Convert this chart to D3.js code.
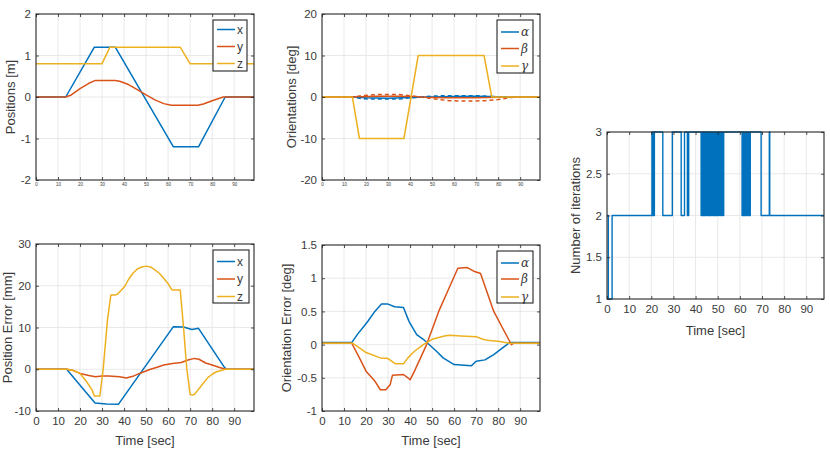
<!DOCTYPE html>
<html><head><meta charset="utf-8">
<script src="https://cdn.jsdelivr.net/npm/d3@7"></script>
<style>body{margin:0;background:#fff}svg{display:block}text{font-family:"Liberation Sans",Arial,sans-serif}</style>
</head><body>
<script>
// ---------- DATA ----------
const xTicks = [0,10,20,30,40,50,60,70,80,90];
const seriesColors = ["#0072BD","#D95319","#EDB120"];

// Panel 1: Positions [m]
const posTicks = [-2,-1,0,1,2];
const posX = [[0,0],[13.5,0],[26.5,1.2],[36,1.2],[62.4,-1.2],[73.8,-1.2],[85.9,0],[99,0]];
const posY = [[0,0],[13.5,0],[16,0.05],[20,0.2],[24,0.33],[27,0.4],[36,0.4],[38,0.38],[42,0.3],[46,0.18],[50,0.05],[54,-0.07],[58,-0.16],[61.5,-0.2],[73.5,-0.2],[76,-0.17],[80,-0.09],[85,0],[99,0]];
const posZ = [[0,0.8],[29.9,0.8],[33.6,1.2],[65.5,1.2],[70,0.8],[99,0.8]];

// Panel 2: Orientations [deg]
const oriTicks = [-20,-10,0,10,20];
const oriA = [[0,0],[14,0],[20,-0.2],[30,-0.3],[40,-0.1],[50,0],[60,0.15],[70,0.2],[80,0.05],[85,0],[99,0]];
const oriB = [[0,0],[14,0],[25,0.2],[35,0.2],[45,0],[55,-0.2],[70,-0.2],[85,0],[99,0]];
const oriG = [[0,0],[13.8,0],[17,-10],[37.2,-10],[43.7,10],[73.6,10],[77.1,0],[99,0]];
const oriADes = [[0,0],[14,0],[18,-0.4],[22,-0.5],[35,-0.5],[40,-0.2],[45,0],[50,0.2],[55,0.3],[72,0.3],[78,0.1],[85,0],[99,0]];
const oriBDes = [[0,0],[14,0],[18,0.3],[25,0.6],[35,0.6],[40,0.3],[45,0],[50,-0.4],[58,-0.9],[66,-1],[74,-0.9],[80,-0.6],[86,-0.1],[90,0],[99,0]];

// Panel 3: Position Error [mm]
const perTicks = [-10,0,10,20,30];
const perX = [[0,0],[13.9,0],[26.8,-8.1],[32,-8.3],[37.4,-8.4],[62.4,10.2],[67,10.1],[70.8,9.5],[73.8,9.8],[85.5,0.5],[86.5,0],[99,0]];
const perY = [[0,0],[14,0],[17,-0.3],[20,-1],[24,-1.5],[27,-1.8],[30,-1.6],[33,-1.6],[38,-1.8],[41,-2.1],[44,-1.7],[47,-1],[52,0],[55,0.5],[58,1],[62,1.4],[66,1.6],[69,2.2],[72,2.6],[74,2.4],[77,1.5],[80,1],[83,0.5],[86,0],[99,0]];
const perZ = [[0,0],[14,0],[17,-0.3],[20,-1],[23,-3],[25.5,-5],[26.5,-6.4],[29,-6.4],[30.5,0],[32.5,12],[34,17.8],[36,17.8],[37,18],[38.5,18.8],[40.5,20],[42,21.5],[44,23],[46,24],[48,24.5],[50,24.7],[52,24.5],[54,23.8],[56,23],[58,21.8],[60,20.5],[61.7,19],[65.5,19],[67,10],[68.5,0],[70,-6],[71,-6.2],[72,-6],[73.5,-5],[75,-4],[78,-2],[80,-1.2],[82,-0.6],[86,0],[99,0]];

// Panel 4: Orientation Error [deg]
const oerTicks = [-1,-0.5,0,0.5,1,1.5];
const oerA = [[0,0.03],[13.5,0.03],[16,0.15],[19.6,0.3],[21,0.36],[24,0.5],[27,0.61],[30,0.61],[33,0.57],[37,0.56],[39.5,0.35],[43,0.15],[46,0.08],[48,0.02],[52,-0.1],[55,-0.2],[60,-0.3],[67.8,-0.32],[70,-0.25],[74,-0.23],[78,-0.15],[82,-0.05],[84,0],[85,0.03],[99,0.03]];
const oerB = [[0,0.02],[13.5,0.02],[17,-0.2],[20,-0.4],[24,-0.55],[26.5,-0.68],[29,-0.68],[31,-0.6],[32,-0.46],[37,-0.45],[39,-0.5],[40,-0.53],[42,-0.4],[47.5,0],[53,0.5],[57,0.8],[61.7,1.15],[66,1.16],[69.3,1.1],[72,1.07],[78,0.5],[86,0],[87,0.02],[99,0.02]];
const oerG = [[0,0.02],[14,0.02],[17,-0.05],[20,-0.12],[26.5,-0.2],[30,-0.21],[33.4,-0.29],[37,-0.29],[39,-0.2],[42,-0.1],[46,0],[50,0.08],[55.6,0.13],[58,0.14],[63,0.13],[70,0.12],[73,0.08],[76,0.06],[80,0.05],[85,0.02],[99,0.02]];

// Panel 5: Number of iterations (step data: time of change, value after change)
const itTicksY = [1,1.5,2,2.5,3];
const iterTime  = [0,0.6,2.3,20.3,20.6,20.9,21.2,21.4,25.2,29.5,33.5,35.0,36.3,36.9,
  42.5,42.9,43.3,43.8,44.2,44.6,45.1,45.5,45.9,46.4,46.8,47.2,47.7,48.1,48.5,49.0,49.4,49.8,50.3,50.7,51.2,51.7,52.2,52.7,
  61.0,61.4,61.8,62.3,62.7,63.1,63.6,64.0,64.4,64.7,69.6,73.3,73.5,98];
const iterValue = [2,1,2,3,2,3,2,3,2,3,2,3,2,3,
  2,3,2,3,2,3,2,3,2,3,2,3,2,3,2,3,2,3,2,3,2,3,2,3,
  2,3,2,3,2,3,2,3,2,3,2,3,2,2];

// ---------- DRAW ----------
const svg = d3.select("body").append("svg").attr("width",830).attr("height",450);
const fmt = d => String(d);
const TICK_FS = 11.5, LABEL_FS = 13;

function panel(o){
  const x = d3.scaleLinear().domain(o.xdom).range([o.l,o.r]);
  const y = d3.scaleLinear().domain(o.ydom).range([o.b,o.t]);
  const g = svg.append("g");
  // grid
  g.selectAll(".gx").data(xTicks.filter(t=>t>o.xdom[0]&&t<o.xdom[1])).join("line")
    .attr("x1",d=>x(d)).attr("x2",d=>x(d)).attr("y1",o.t).attr("y2",o.b)
    .attr("stroke","#e3e3e3").attr("stroke-width",0.8);
  g.selectAll(".gy").data(o.yticks.filter(t=>t>o.ydom[0]&&t<o.ydom[1])).join("line")
    .attr("x1",o.l).attr("x2",o.r).attr("y1",d=>y(d)).attr("y2",d=>y(d))
    .attr("stroke","#e3e3e3").attr("stroke-width",0.8);
  // series
  const line = d3.line().x(d=>x(d[0])).y(d=>y(d[1]));
  const clip = "clip"+Math.round(o.l)+"_"+Math.round(o.t);
  svg.append("clipPath").attr("id",clip).append("rect").attr("x",o.l).attr("y",o.t-1).attr("width",o.r-o.l).attr("height",o.b-o.t+2);
  const sg = g.append("g").attr("clip-path","url(#"+clip+")");
  o.series.forEach(s=>{
    sg.append("path").attr("d",(s.curve?line.curve(s.curve):line.curve(d3.curveLinear))(s.data))
      .attr("fill","none").attr("stroke",s.color).attr("stroke-width",s.w||1.5)
      .attr("stroke-dasharray",s.dash||null).attr("stroke-linejoin","round");
  });
  // axes (ticks inside, box)
  const tl = 3;
  const axB = d3.axisBottom(x).tickValues(xTicks).tickSize(-tl).tickPadding(o.xpad).tickFormat(fmt);
  const axL = d3.axisLeft(y).tickValues(o.yticks).tickSize(-tl).tickPadding(5).tickFormat(fmt);
  const axT = d3.axisTop(x).tickValues(xTicks).tickSize(-tl).tickFormat("");
  const axR = d3.axisRight(y).tickValues(o.yticks).tickSize(-tl).tickFormat("");
  [[axB,`translate(0,${o.b})`],[axL,`translate(${o.l},0)`],[axT,`translate(0,${o.t})`],[axR,`translate(${o.r},0)`]]
  .forEach(([ax,tr],i)=>{
    const a = g.append("g").attr("transform",tr).call(ax);
    a.select(".domain").remove();
    a.selectAll(".tick line").attr("stroke","#262626").attr("stroke-width",0.8);
    a.selectAll("text").attr("fill","#3a3a3a").style("font-family","Liberation Sans, Arial, sans-serif")
      .attr("font-size", i===0 ? o.xfs : TICK_FS);
  });
  g.append("rect").attr("x",o.l).attr("y",o.t).attr("width",o.r-o.l).attr("height",o.b-o.t)
    .attr("fill","none").attr("stroke","#262626").attr("stroke-width",1.1);
  // labels
  g.append("text").attr("transform",`translate(${o.ylx},${(o.t+o.b)/2}) rotate(-90)`)
    .attr("text-anchor","middle").attr("font-size",LABEL_FS).attr("fill","#3a3a3a").text(o.ylabel);
  if(o.xlabel) g.append("text").attr("x",(o.l+o.r)/2).attr("y",o.xly).attr("text-anchor","middle")
    .attr("font-size",LABEL_FS).attr("fill","#3a3a3a").text(o.xlabel);
  // legend
  if(o.legend){
    const L=o.legend;
    g.append("rect").attr("x",L.x).attr("y",L.y).attr("width",L.w).attr("height",L.h)
      .attr("fill","#fff").attr("stroke","#262626").attr("stroke-width",1.1);
    L.items.forEach((it,i)=>{
      const yy = L.ys[i];
      g.append("line").attr("x1",L.x+4).attr("x2",L.x+22).attr("y1",yy).attr("y2",yy)
        .attr("stroke",seriesColors[i]).attr("stroke-width",1.5);
      g.append("text").attr("x",L.x+24).attr("y",yy+4).attr("font-size",12)
        .attr("fill","#3a3a3a").style("font-family",L.greek?"DejaVu Serif, serif":null)
        .attr("font-style",L.greek?"italic":null).text(it);
    });
  }
}

panel({l:36,r:254,t:14,b:180,xdom:[0,99],ydom:[-2,2],yticks:posTicks,xfs:4.5,xpad:3,
  ylabel:"Positions [m]",ylx:15,
  series:[{data:posX,color:seriesColors[0]},{data:posY,color:seriesColors[1]},{data:posZ,color:seriesColors[2]}],
  legend:{x:213,y:20,w:34,h:51,ys:[29.5,46.5,63.5],items:["x","y","z"]}});

panel({l:322,r:540,t:14,b:180,xdom:[0,99],ydom:[-20,20],yticks:oriTicks,xfs:4.5,xpad:3,
  ylabel:"Orientations [deg]",ylx:296,
  series:[{data:oriA,color:seriesColors[0]},{data:oriB,color:seriesColors[1]},
          {data:oriADes,color:seriesColors[0],dash:"4,3"},{data:oriBDes,color:seriesColors[1],dash:"4,3"},
          {data:oriG,color:seriesColors[2]}],
  legend:{x:497,y:20,w:36,h:53,ys:[32,48.5,66],items:["α","β","γ"],greek:true}});

panel({l:36,r:254,t:244,b:411,xdom:[0,99],ydom:[-10,30],yticks:perTicks,xfs:TICK_FS,xpad:6,
  ylabel:"Position Error [mm]",ylx:12,xlabel:"Time [sec]",xly:445,
  series:[{data:perX,color:seriesColors[0]},{data:perY,color:seriesColors[1]},{data:perZ,color:seriesColors[2]}],
  legend:{x:213,y:250,w:36,h:53,ys:[261.5,279,296.5],items:["x","y","z"]}});

panel({l:322,r:540,t:245,b:411,xdom:[0,99],ydom:[-1,1.5],yticks:oerTicks,xfs:TICK_FS,xpad:6,
  ylabel:"Orientation Error [deg]",ylx:291,xlabel:"Time [sec]",xly:445,
  series:[{data:oerA,color:seriesColors[0]},{data:oerB,color:seriesColors[1]},{data:oerG,color:seriesColors[2]}],
  legend:{x:497,y:251,w:36,h:52,ys:[263,279,297],items:["α","β","γ"],greek:true}});

panel({l:607,r:824,t:132,b:299,xdom:[0,98],ydom:[1,3],yticks:itTicksY,xfs:TICK_FS,xpad:6,
  ylabel:"Number of iterations",ylx:580,xlabel:"Time [sec]",xly:335,
  series:[{data:iterTime.map((t,i)=>[t,iterValue[i]]),color:seriesColors[0],curve:d3.curveStepAfter,w:1.4}]});
</script>
</body></html>
